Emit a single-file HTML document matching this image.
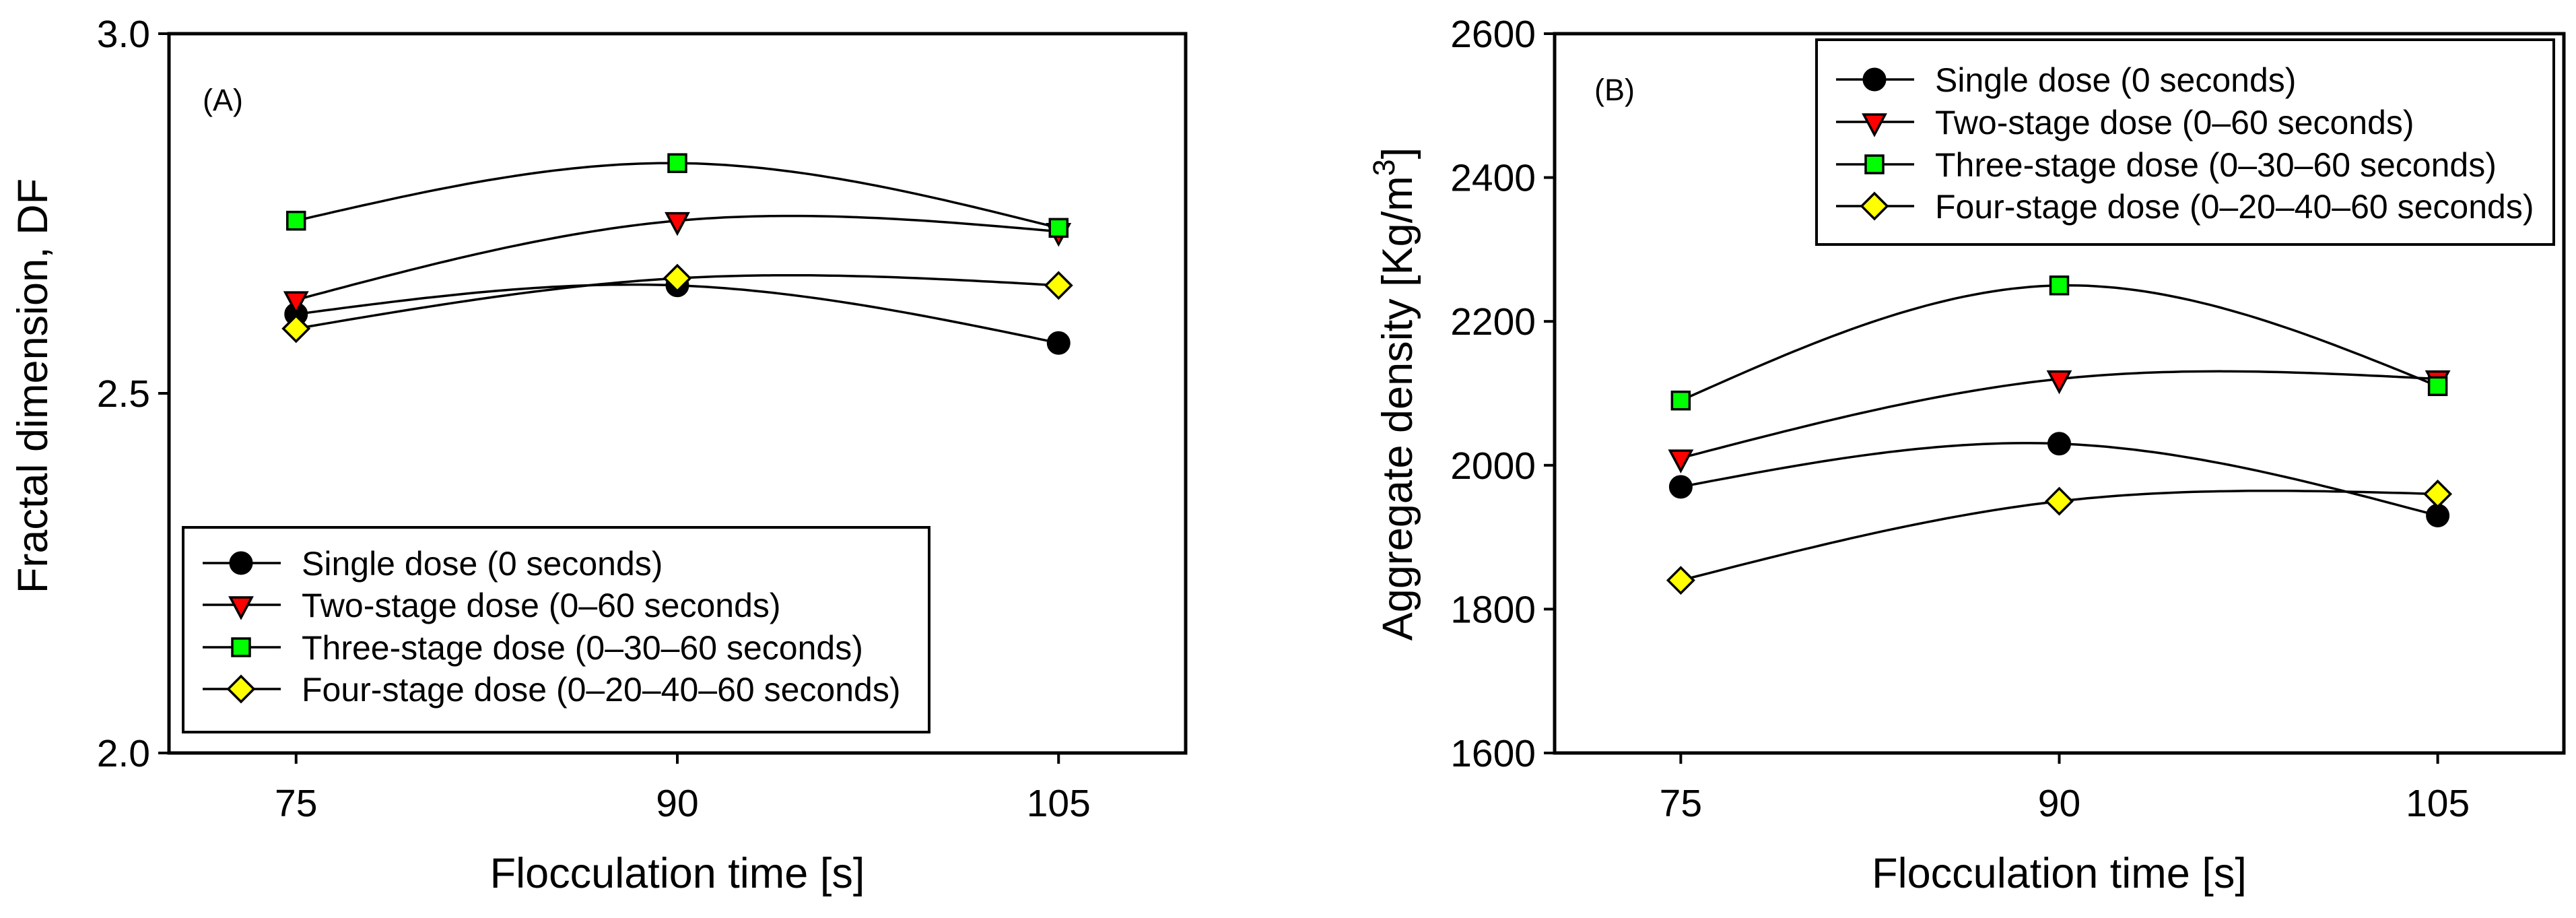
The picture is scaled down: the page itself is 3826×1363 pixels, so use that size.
<!DOCTYPE html>
<html><head><meta charset="utf-8"><style>
html,body{margin:0;padding:0;background:#fff;}
svg{display:block;font-family:"Liberation Sans",Arial,sans-serif;}
</style></head><body>
<svg id="chart" width="3826" height="1363" viewBox="0 0 3826 1363" xmlns="http://www.w3.org/2000/svg"></svg>
<script>
const categories = [75, 90, 105];
const seriesNames = ["Single dose (0 seconds)","Two-stage dose (0\u201360 seconds)","Three-stage dose (0\u201330\u201360 seconds)","Four-stage dose (0\u201320\u201340\u201360 seconds)"];
const fractalSingle = [2.61, 2.65, 2.57];
const fractalTwo = [2.63, 2.74, 2.725];
const fractalThree = [2.74, 2.82, 2.73];
const fractalFour = [2.59, 2.66, 2.65];
const densitySingle = [1970, 2030, 1930];
const densityTwo = [2010, 2120, 2120];
const densityThree = [2090, 2250, 2110];
const densityFour = [1840, 1950, 1960];
const xTicks = [75, 90, 105];
const yTicksA = ["2.0","2.5","3.0"];
const yTicksB = ["1600","1800","2000","2200","2400","2600"];

const NS="http://www.w3.org/2000/svg";
const svg=document.getElementById('chart');
function mk(tag,attrs,parent){const e=document.createElementNS(NS,tag);for(const k in attrs)e.setAttribute(k,attrs[k]);(parent||svg).appendChild(e);return e;}
const markerTypes=['circle','tri','square','diamond'];
const fills=['#000','#ff0000','#00ff00','#ffff00'];

function marker(type,x,y,fill,g){
  let e;
  if(type==='circle'){e=mk('circle',{cx:x,cy:y,r:16,fill:fill,stroke:'#000','stroke-width':3},g);}
  else if(type==='square'){e=mk('rect',{x:x-13,y:y-13,width:26,height:26,fill:fill,stroke:'#000','stroke-width':3.5},g);}
  else if(type==='tri'){e=mk('polygon',{points:`${x-16},${y-11} ${x+16},${y-11} ${x},${y+19}`,fill:fill,stroke:'#000','stroke-width':3.5},g);}
  else {e=mk('polygon',{points:`${x},${y-19} ${x+19},${y} ${x},${y+19} ${x-19},${y}`,fill:fill,stroke:'#000','stroke-width':3.5},g);}
  return e;
}

function splinePath(xs,ys,fx,fy){
  const n=xs.length;const h=[];for(let i=0;i<n-1;i++)h.push(xs[i+1]-xs[i]);
  const M=new Array(n).fill(0);
  if(n===3){M[1]=(6*((ys[2]-ys[1])/h[1]-(ys[1]-ys[0])/h[0]))/(2*(h[0]+h[1]));}
  let d='';
  for(let i=0;i<n-1;i++){
    for(let s=0;s<=40;s++){
      const t=xs[i]+h[i]*s/40;
      const a=xs[i+1]-t,b=t-xs[i];
      const v=M[i]*a*a*a/(6*h[i])+M[i+1]*b*b*b/(6*h[i])+(ys[i]-M[i]*h[i]*h[i]/6)*a/h[i]+(ys[i+1]-M[i+1]*h[i]*h[i]/6)*b/h[i];
      d+=(d?'L':'M')+fx(t).toFixed(1)+','+fy(v).toFixed(1);
    }
  }
  return d;
}

function panel(opt){
  const g=mk('g',{});
  
  
  const {L,R,T,B,ymin,ymax}=opt;
  const fx=v=>L+(v-70)/40*(R-L);
  const fy=v=>B-(v-ymin)/(ymax-ymin)*(B-T);
  opt.yTicks.forEach(s=>{const v=parseFloat(s),y=fy(v);
    const l=mk('line',{x1:L-16,x2:L,y1:y,y2:y,stroke:'#000','stroke-width':4},g);
    
    const t=mk('text',{x:L-28,y:y+20,'font-size':57,'text-anchor':'end'},g);t.textContent=s;
    
  });
  xTicks.forEach(v=>{const x=fx(v);
    const l=mk('line',{x1:x,x2:x,y1:B,y2:B+16,stroke:'#000','stroke-width':4},g);
    
    const t=mk('text',{x:x,y:1212,'font-size':57,'text-anchor':'middle'},g);t.textContent=v;
    
  });
  const fr=mk('rect',{x:L,y:T,width:R-L,height:B-T,fill:'none',stroke:'#000','stroke-width':5},g);
  
  const xt=mk('text',{x:fx(90),y:1318,'font-size':63,'text-anchor':'middle'},g);xt.textContent='Flocculation time [s]';
  
  const yt=mk('text',{x:0,y:0,'font-size':63,'text-anchor':'middle',transform:`translate(${opt.ytx},${opt.yty}) rotate(-90)`},g);
  
  if(opt.sup){yt.appendChild(document.createTextNode('Aggregate density [Kg/m'));const sp=mk('tspan',{dy:-26,'font-size':45},yt);sp.textContent='3';const sp2=mk('tspan',{dy:26},yt);sp2.textContent=']';}
  else yt.textContent=opt.ytitle;
  const pl=mk('text',{x:opt.plx,y:opt.ply,'font-size':45},g);pl.textContent=opt.label;
  
  opt.series.forEach((vals,i)=>{
    const sg=mk('g',{},g);
    
    const p=mk('path',{d:splinePath(categories,vals,fx,fy),fill:'none',stroke:'#000','stroke-width':3.5},sg);
    
    vals.forEach((v,j)=>{const m=marker(markerTypes[i],fx(categories[j]),fy(v),fills[i],sg);
      });
  });
  const lg=mk('g',{},g);
  
  const lb=mk('rect',{x:opt.lx,y:opt.ly,width:opt.lw,height:opt.lh,fill:'#fff',stroke:'#000','stroke-width':4},lg);
  
  seriesNames.forEach((n,i)=>{
    const y=opt.rows[i];
    const eg=mk('g',{},lg);
    
    mk('line',{x1:opt.lx+29,x2:opt.lx+145,y1:y,y2:y,stroke:'#000','stroke-width':3.5},eg);
    marker(markerTypes[i],opt.lx+86,y,fills[i],eg);
    const t=mk('text',{x:opt.lx+176,y:y+18,'font-size':50},eg);t.textContent=n;
  });
}

panel({name:'panel-a-fractal-dimension',L:251,R:1761,T:50,B:1118,ymin:2.0,ymax:3.0,yTicks:yTicksA,
  ytitle:'Fractal dimension, DF',ytx:70,yty:573,label:'(A)',plx:301,ply:164,
  series:[fractalSingle,fractalTwo,fractalThree,fractalFour],
  lx:272,ly:783,lw:1108,lh:304,rows:[836,898,961,1023]});
panel({name:'panel-b-aggregate-density',L:2309,R:3808,T:50,B:1118,ymin:1600,ymax:2600,yTicks:yTicksB,
  sup:true,ytx:2097,yty:585,label:'(B)',plx:2368,ply:149,
  series:[densitySingle,densityTwo,densityThree,densityFour],
  lx:2698,ly:59,lw:1095,lh:304,rows:[118,181,244,306]});
</script>
</body></html>
